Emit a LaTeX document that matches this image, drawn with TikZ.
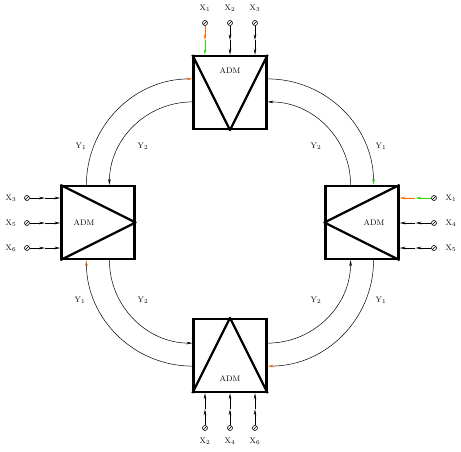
\documentclass[tikz,border=0pt]{standalone}
\usetikzlibrary{arrows.meta,calc}
\definecolor{addc}{RGB}{255,102,0}
\definecolor{dropc}{RGB}{40,220,0}
\tikzset{
  adm/.style={draw, line width=2.2pt, minimum width=73pt, minimum height=73pt, inner sep=0pt},
  tri/.style={line width=2.2pt, line join=round},
  ring/.style={line width=0.5pt},
  port/.style={circle, draw, inner sep=0pt, minimum size=5pt, line width=0.6pt, path picture={\draw[line width=0.6pt] (path picture bounding box.south west) -- (path picture bounding box.north east);}},
  io/.style={line width=0.8pt},
  lab/.style={font=\fontsize{8}{9}\selectfont, inner sep=0pt},
  tip/.style={-{Stealth[length=6pt,width=2.6pt,#1]}},
}
\begin{document}
\begin{tikzpicture}[x=1pt,y=-1pt]
\useasboundingbox (0,0) rectangle (461,451);
% ADM boxes
\node[adm] (T) at (230,92.5) {};
\node[adm] (L) at (98,222.5) {};
\node[adm] (R) at (362,222.5) {};
\node[adm] (B) at (230,355.5) {};
\draw[tri] (T.north west) -- (T.south) -- (T.north east);
\draw[tri] (L.north west) -- (L.east) -- (L.south west);
\draw[tri] (R.north east) -- (R.west) -- (R.south east);
\draw[tri] (B.south west) -- (B.north) -- (B.south east);
\node[lab] (tA) at (230,71) {ADM};
\node[lab] (lA) at (84,223) {ADM};
\node[lab] (rA) at (374,223) {ADM};
\node[lab] (bA) at (230,379) {ADM};
% ring corners
\coordinate (c1) at (T.west |- L.north);
\coordinate (c2) at (T.east |- R.north);
\coordinate (c3) at (B.east |- R.south);
\coordinate (c4) at (B.west |- L.south);
% outer ring (clockwise)
\draw[ring,tip=addc] ($(c1)+(-106,0)$) arc[start angle=180,end angle=90,radius=106pt];
\draw[ring,tip=dropc] ($(c2)+(0,-106)$) arc[start angle=90,end angle=0,radius=106pt];
\draw[ring,tip=addc] ($(c3)+(106,0)$) arc[start angle=0,end angle=-90,radius=106pt];
\draw[ring,tip=addc] ($(c4)+(0,106)$) arc[start angle=-90,end angle=-180,radius=106pt];
% inner ring (counter-clockwise)
\draw[ring,tip=black] ($(c1)+(0,-83)$) arc[start angle=90,end angle=180,radius=83pt];
\draw[ring,tip=black] ($(c4)+(-83,0)$) arc[start angle=180,end angle=270,radius=83pt];
\draw[ring,tip=black] ($(c3)+(0,83)$) arc[start angle=-90,end angle=0,radius=83pt];
\draw[ring,tip=black] ($(c2)+(83,0)$) arc[start angle=0,end angle=90,radius=83pt];
% Y labels
\node[lab] (y1) at (81,146) {Y$_1$};
\node[lab] (y2) at (143,146) {Y$_2$};
\node[lab] (y3) at (316,146) {Y$_2$};
\node[lab] (y4) at (381,146) {Y$_1$};
\node[lab] (y5) at (80,300) {Y$_1$};
\node[lab] (y6) at (143,300) {Y$_2$};
\node[lab] (y7) at (316,300) {Y$_2$};
\node[lab] (y8) at (381,300) {Y$_1$};
% top ports
\foreach \i/\x/\n/\ca/\cb in {1/205/1/addc/dropc, 2/230/2/black/black, 3/255/3/black/black}{
  \node[lab] (tx\i) at (\x,8) {X$_\n$};
  \node[port] (tp\i) at (\x,23) {};
  \coordinate (tm\i) at ($(tp\i.south)!0.5!(tp\i.south |- T.north)$);
  \draw[io,draw=\ca,tip=\ca] (tp\i.south) -- (tm\i);
  \draw[io,draw=\cb,tip=\cb] (tm\i) -- (tp\i.south |- T.north);
}
% bottom ports
\foreach \i/\x/\n in {1/205/2, 2/230/4, 3/255/6}{
  \node[lab] (bx\i) at (\x,441) {X$_\n$};
  \node[port] (bp\i) at (\x,428) {};
  \coordinate (bm\i) at ($(bp\i.north)!0.5!(bp\i.north |- B.south)$);
  \draw[io,tip=black] (bp\i.north) -- (bm\i);
  \draw[io,tip=black] (bm\i) -- (bp\i.north |- B.south);
}
% left ports
\foreach \i/\y/\n in {1/198/3, 2/223/5, 3/248/6}{
  \node[lab] (lx\i) at (11,\y) {X$_\n$};
  \node[port] (lp\i) at (27,\y) {};
  \coordinate (lm\i) at ($(lp\i.east)!0.5!(lp\i.east -| L.west)$);
  \draw[io,tip=black] (lp\i.east) -- (lm\i);
  \draw[io,tip=black] (lm\i) -- (lp\i.east -| L.west);
}
% right ports
\foreach \i/\y/\n/\ca/\cb in {1/198/1/dropc/addc, 2/223/4/black/black, 3/248/5/black/black}{
  \node[lab] (rx\i) at (451,\y) {X$_\n$};
  \node[port] (rp\i) at (434,\y) {};
  \coordinate (rm\i) at ($(rp\i.west)!0.5!(rp\i.west -| R.east)$);
  \draw[io,draw=\ca,tip=\ca] (rp\i.west) -- (rm\i);
  \draw[io,draw=\cb,tip=\cb] (rm\i) -- (rp\i.west -| R.east);
}
\end{tikzpicture}
\end{document}
